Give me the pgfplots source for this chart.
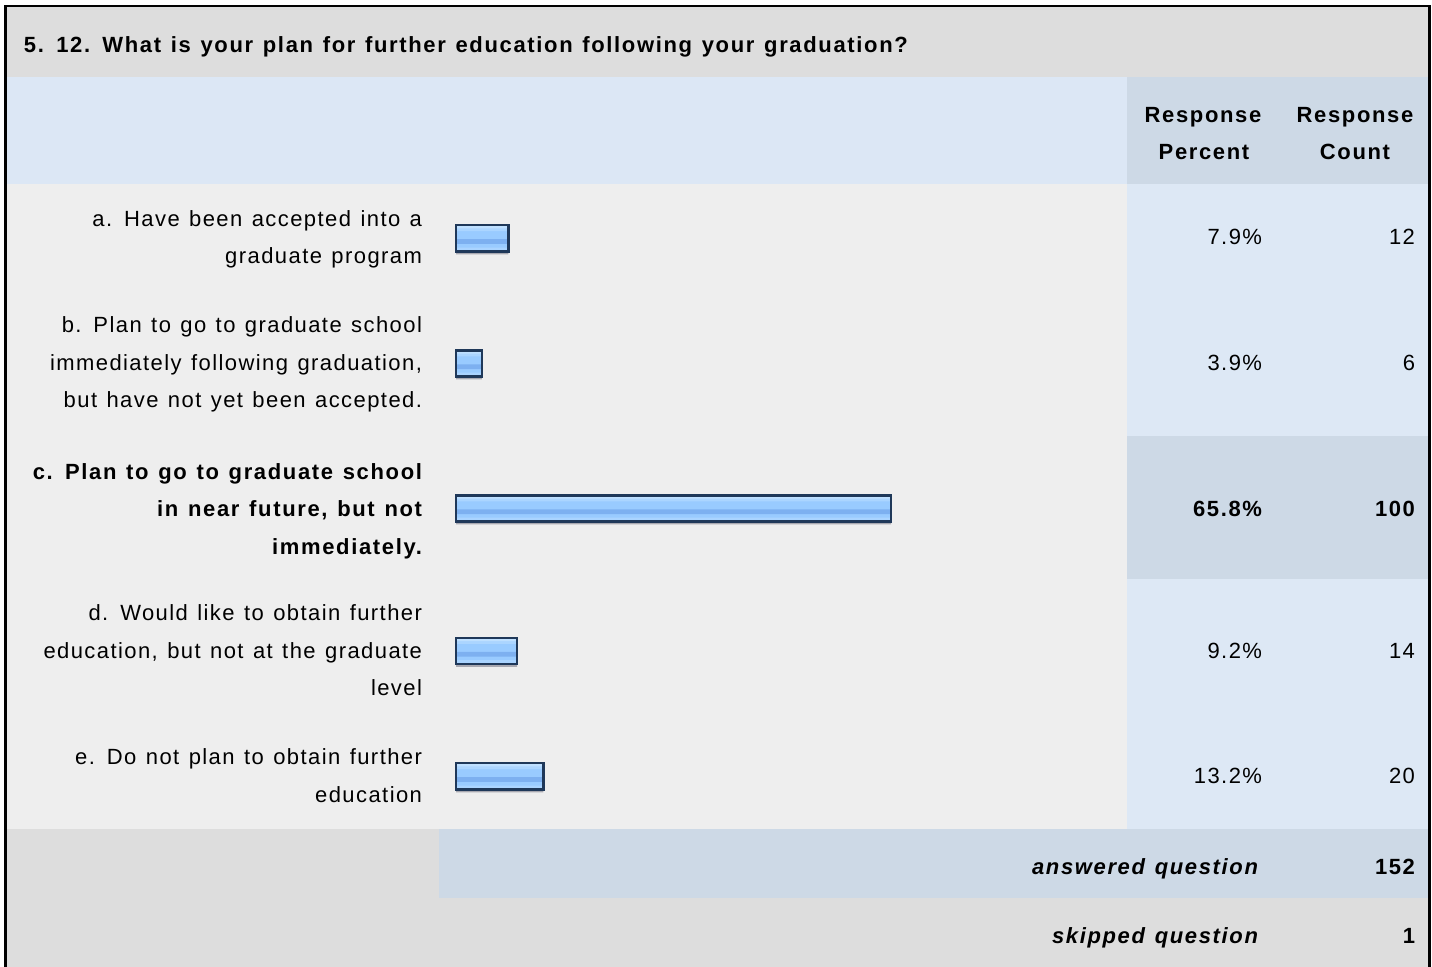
\documentclass[border=0pt]{standalone}
\usepackage{pgfplots}
\usepackage{pgfplotstable}
\pgfplotsset{compat=1.18}
\usepackage{fontspec}
\setmainfont{Liberation Sans}[LetterSpace=6.5, WordSpace=1.25, BoldFeatures={LetterSpace=7.5}, BoldItalicFeatures={LetterSpace=7.5}]
\definecolor{titlebg}{HTML}{DDDDDD}
\definecolor{headbg}{HTML}{DCE7F5}
\definecolor{headdk}{HTML}{CDD9E6}
\definecolor{rowbg}{HTML}{EEEEEE}
\definecolor{rowblue}{HTML}{DDE8F5}
\definecolor{bartop}{HTML}{BFE0FF}
\definecolor{barlt}{HTML}{ABD5FF}
\definecolor{barmid}{HTML}{99CBFF}
\definecolor{bardk}{HTML}{7DB0F0}
\definecolor{barbot}{HTML}{AAD4FF}
\definecolor{barline}{HTML}{1F3859}
\definecolor{barshadow}{HTML}{A8A8B0}
% percent of respondents, and vertical position (px from top) of each row's bar
\pgfplotstableread{
pct ypos
7.9 238.3
3.9 363.5
65.8 508.5
9.2 651
13.2 776.3
}\bardata
\begin{document}
\begin{tikzpicture}
\begin{scope}[x=0.5pt,y=-0.5pt,
  lab/.style={anchor=base east, inner sep=0pt, outer sep=0pt},
  labw/.style={anchor=base west, inner sep=0pt, outer sep=0pt},
  labc/.style={anchor=base, inner sep=0pt, outer sep=0pt}]
\fontsize{11pt}{18.5pt}\selectfont
% frame and backgrounds
\fill[white] (0,0) rectangle (1432,967);
\fill[black] (4,5) rectangle (1431,967);
\fill[titlebg] (7,7.5) rectangle (1428,77);
\fill[headbg] (7,77) rectangle (1127,184);
\fill[headdk] (1127,77) rectangle (1428,184);
\fill[rowbg] (7,184) rectangle (1127,829);
\fill[rowblue] (1127,184) rectangle (1428,829);
\fill[headdk] (1127,436) rectangle (1428,579);
\fill[titlebg] (7,829) rectangle (439,898);
\fill[headdk] (439,829) rectangle (1428,898);
\fill[titlebg] (7,898) rectangle (1428,967);
% title
\node[labw] at (24,53) {\bfseries 5. 12. What is your plan for further education following your graduation?};
% header
\node[labc] at (1203,123) {\bfseries Response};
\node[labc] at (1204,160) {\bfseries Percent};
\node[labc] at (1355,123) {\bfseries Response};
\node[labc] at (1355,160) {\bfseries Count};
% row labels
\node[lab] at (422,227) {a. Have been accepted into a};
\node[lab] at (422,264) {graduate program};
\node[lab] at (422,333) {b. Plan to go to graduate school};
\node[lab] at (422,371) {immediately following graduation,};
\node[lab] at (422,408) {but have not yet been accepted.};
\node[lab] at (422,480) {\bfseries c. Plan to go to graduate school};
\node[lab] at (422,517) {\bfseries in near future, but not};
\node[lab] at (422,555) {\bfseries immediately.};
\node[lab] at (422,621) {d. Would like to obtain further};
\node[lab] at (422,659) {education, but not at the graduate};
\node[lab] at (422,696) {level};
\node[lab] at (422,765) {e. Do not plan to obtain further};
\node[lab] at (422,803) {education};
% percents and counts
\node[lab] at (1262,245) {7.9\%};   \node[lab] at (1415,245) {12};
\node[lab] at (1262,371) {3.9\%};   \node[lab] at (1415,371) {6};
\node[lab] at (1262,517) {\bfseries 65.8\%}; \node[lab] at (1415,517) {\bfseries 100};
\node[lab] at (1262,659) {9.2\%};   \node[lab] at (1415,659) {14};
\node[lab] at (1262,784) {13.2\%};  \node[lab] at (1415,784) {20};
\node[lab] at (1258,875) {\bfseries\itshape answered question}; \node[lab] at (1415,875) {\bfseries 152};
\node[lab] at (1258,944) {\bfseries\itshape skipped question};  \node[lab] at (1415,944) {\bfseries 1};
\end{scope}
% bars
\begin{axis}[at={(228.1pt,0pt)}, anchor=north west,
  width=329.25pt, height=483.5pt, scale only axis,
  xmin=0, xmax=99.6, ymin=0, ymax=967, y dir=reverse,
  hide axis, clip=false,
  mybar/.style={xbar, draw=none, line width=0pt, bar width=#1}]
% shadow
\addplot[mybar=14.35pt, bar shift=-0.8pt, fill=barshadow] table[x=pct, y=ypos] {\bardata};
% body
\addplot[mybar=13.15pt, bar shift=0pt, fill=barmid] table[x=pct, y=ypos] {\bardata};
% stripes
\addplot[mybar=2.4pt, bar shift=4.8pt, fill=barlt] table[x=pct, y=ypos] {\bardata};
\addplot[mybar=1.3pt, bar shift=5.6pt, fill=bartop] table[x=pct, y=ypos] {\bardata};
\addplot[mybar=2.3pt, bar shift=-1.6pt, fill=bardk] table[x=pct, y=ypos] {\bardata};
\addplot[mybar=1.4pt, bar shift=-5.3pt, fill=barbot] table[x=pct, y=ypos] {\bardata};
% outline
\addplot[xbar, bar width=13.15pt, bar shift=0pt, draw=barline, line width=1.2pt, fill=none] table[x=pct, y=ypos] {\bardata};
\end{axis}
\pgfresetboundingbox
\path[use as bounding box] (0pt,0pt) rectangle (716pt,-483.5pt);
\end{tikzpicture}
\end{document}
